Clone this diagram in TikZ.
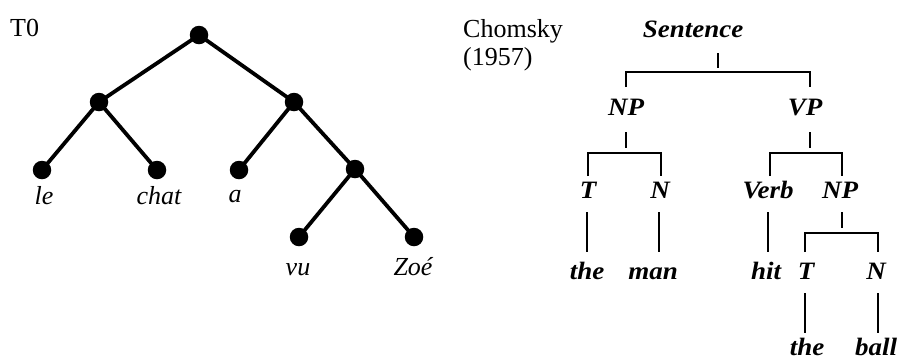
\documentclass[tikz,border=0pt]{standalone}
\usepackage{fontspec}
\setmainfont{Liberation Serif}
\newfontfamily\chfont{Liberation Serif}[FakeStretch=1.08]
\begin{document}
\begin{tikzpicture}[x=1pt,y=-1pt,
  dot/.style={circle,fill=black,inner sep=0pt,minimum size=18.5pt},
  edge/.style={line width=3.8pt},
  leaf/.style={font=\fontsize{26}{30}\selectfont\itshape,anchor=base,inner sep=0pt},
  lbl/.style={font=\fontsize{26}{28}\selectfont,anchor=base west,inner sep=0pt},
  ch/.style={font=\chfont\fontsize{25}{30}\selectfont\bfseries\itshape,anchor=base,inner sep=0pt},
  br/.style={line width=2.3pt}]
\useasboundingbox (0,0) rectangle (901,360);
% ---------- left tree ----------
\node[lbl] (t0) at (10,36) {T0};
\node[dot] (r) at (199,35) {};
\node[dot] (l1) at (99,102) {};
\node[dot] (r1) at (294,102) {};
\node[dot] (dle) at (42,170) {};
\node[dot] (dchat) at (157,170) {};
\node[dot] (da) at (239,170) {};
\node[dot] (r2) at (355,169) {};
\node[dot] (dvu) at (299,237) {};
\node[dot] (dzoe) at (414,237) {};
\draw[edge] (r.center) -- (l1.center);
\draw[edge] (r.center) -- (r1.center);
\draw[edge] (l1.center) -- (dle.center);
\draw[edge] (l1.center) -- (dchat.center);
\draw[edge] (r1.center) -- (da.center);
\draw[edge] (r1.center) -- (r2.center);
\draw[edge] (r2.center) -- (dvu.center);
\draw[edge] (r2.center) -- (dzoe.center);
\node[leaf] (tle) at (44,204) {le};
\node[leaf] (tchat) at (159,204) {chat};
\node[leaf] (ta) at (235,202) {a};
\node[leaf] (tvu) at (298,275) {vu};
\node[leaf] (tzoe) at (413,275) {Zoé};
% ---------- right tree ----------
\node[lbl] (ch1) at (463,37) {Chomsky};
\node[lbl] (ch2) at (463,65) {(1957)};
\node[ch] (S) at (693,37) {Sentence};
\node[ch] (NP) at (626,115) {NP};
\node[ch] (VP) at (805,115) {VP};
\node[ch] (T1) at (588,198) {T};
\node[ch] (N1) at (660,198) {N};
\node[ch] (V) at (768,198) {Verb};
\node[ch] (NP2) at (840,198) {NP};
\node[ch] (the1) at (587,279) {the};
\node[ch] (man) at (653,279) {man};
\node[ch] (hit) at (766,279) {hit};
\node[ch] (T2) at (806,279) {T};
\node[ch] (N2) at (876,279) {N};
\node[ch] (the2) at (807,355) {the};
\node[ch] (ball) at (876,355) {ball};
% Sentence bracket
\coordinate (sT1) at (718,53); \coordinate (sT2) at (718,68);
\coordinate (sL) at (626,87); \coordinate (sLt) at (626,72);
\coordinate (sR) at (810,87); \coordinate (sRt) at (810,72);
\draw[br] (sT1) -- (sT2);
\draw[br] (sL) -- (sLt) -- (sRt) -- (sR);
% NP bracket
\coordinate (nT1) at (626,132); \coordinate (nT2) at (626,148);
\coordinate (nL) at (588,176); \coordinate (nLt) at (588,153);
\coordinate (nR) at (661,176); \coordinate (nRt) at (661,153);
\draw[br] (nT1) -- (nT2);
\draw[br] (nL) -- (nLt) -- (nRt) -- (nR);
% VP bracket
\coordinate (vT1) at (810,132); \coordinate (vT2) at (810,148);
\coordinate (vL) at (770,176); \coordinate (vLt) at (770,153);
\coordinate (vR) at (842,176); \coordinate (vRt) at (842,153);
\draw[br] (vT1) -- (vT2);
\draw[br] (vL) -- (vLt) -- (vRt) -- (vR);
% T, N, Verb to words
\coordinate (a1) at (587,212); \coordinate (a2) at (587,252);
\coordinate (b1) at (659,212); \coordinate (b2) at (659,252);
\coordinate (c1) at (768,212); \coordinate (c2) at (768,252);
\draw[br] (a1) -- (a2);
\draw[br] (b1) -- (b2);
\draw[br] (c1) -- (c2);
% second NP bracket
\coordinate (mT1) at (842,212); \coordinate (mT2) at (842,228);
\coordinate (mL) at (805,252); \coordinate (mLt) at (805,233);
\coordinate (mR) at (878,252); \coordinate (mRt) at (878,233);
\draw[br] (mT1) -- (mT2);
\draw[br] (mL) -- (mLt) -- (mRt) -- (mR);
% lower T, N
\coordinate (d1) at (805,293); \coordinate (d2) at (805,333);
\coordinate (e1) at (878,293); \coordinate (e2) at (878,333);
\draw[br] (d1) -- (d2);
\draw[br] (e1) -- (e2);
\end{tikzpicture}
\end{document}
